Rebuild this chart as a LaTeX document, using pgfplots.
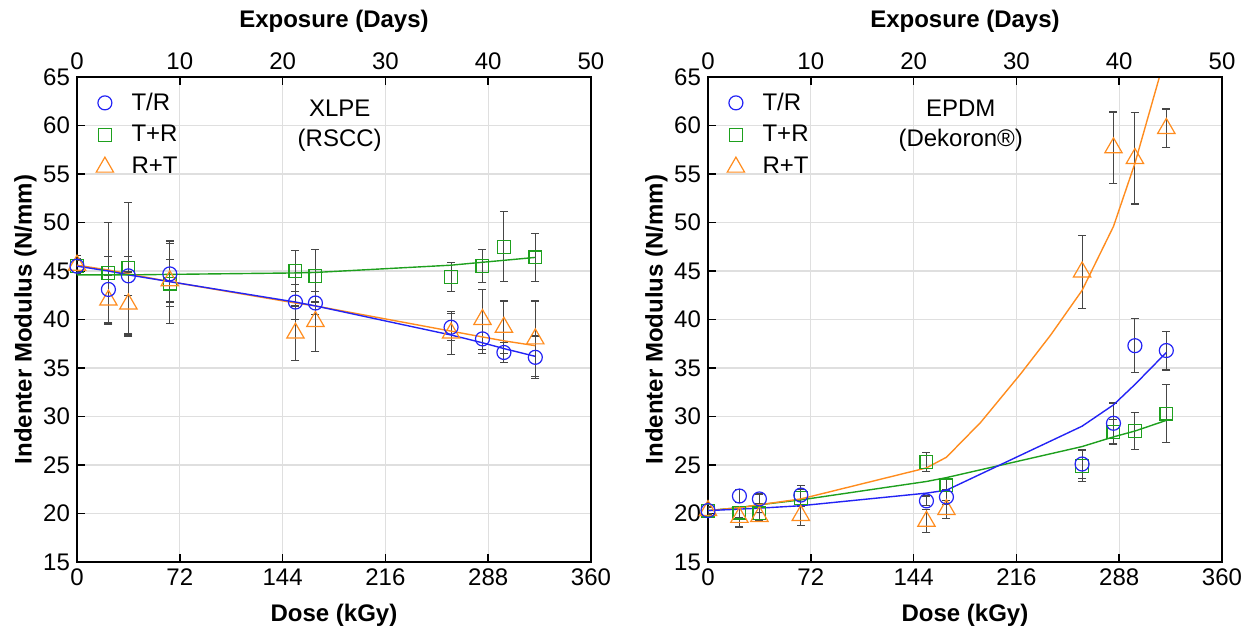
\documentclass[border=0pt]{standalone}
\usepackage{fontspec}
\setmainfont{Liberation Sans}
\usepackage{pgfplots}
\pgfplotsset{compat=1.18}

\definecolor{cTR}{RGB}{35,35,245}
\definecolor{cTpR}{RGB}{30,160,30}
\definecolor{cRT}{RGB}{255,140,30}
\definecolor{cerr}{RGB}{70,70,70}

% XLPE (RSCC): dose, value, error
\pgfplotstableread{
x y e
0 45.5 0.8
22 43.1 3.4
36 44.5 2.0
65 44.7 3.4
153 41.8 1.8
167 41.7 1.2
262 39.2 1.4
284 38.0 1.5
299 36.6 1.0
321 36.1 2.2
}\xlpeTR
\pgfplotstableread{
x y e
0 45.5 0.6
22 44.8 5.2
36 45.3 6.8
65 43.7 4.1
153 45.0 2.1
167 44.5 2.7
262 44.4 1.5
284 45.5 1.7
299 47.5 3.6
321 46.4 2.5
}\xlpeTpR
\pgfplotstableread{
x y e
0 45.6 1.0
22 42.0 2.5
36 41.6 3.3
65 44.0 2.2
153 38.6 2.8
167 39.8 3.1
262 38.6 2.2
284 40.0 3.1
299 39.2 2.7
321 38.0 3.9
}\xlpeRT

% EPDM (Dekoron)
\pgfplotstableread{
x y e
0 20.3 0.3
22 21.8 0.7
36 21.5 0.5
65 21.9 1.0
153 21.3 0.5
167 21.7 0.8
262 25.1 1.5
284 29.3 2.1
299 37.3 2.8
321 36.8 2.0
}\epdmTR
\pgfplotstableread{
x y e
0 20.3 0.3
22 20.1 0.5
36 20.0 0.6
65 21.6 0.9
153 25.3 1.0
167 22.9 0.6
262 24.9 1.6
284 28.4 1.3
299 28.5 1.9
321 30.3 3.0
}\epdmTpR
\pgfplotstableread{
x y e
0 20.3 0.4
22 19.6 1.0
36 19.7 0.4
65 19.8 1.0
153 19.2 1.2
167 20.4 0.9
262 44.9 3.8
284 57.7 3.7
299 56.6 4.7
321 59.7 2.0
}\epdmRT

\pgfplotsset{
  base/.style={
    scale only axis, width=257pt, height=242.5pt, anchor=south west,
    xmin=0, xmax=360, ymin=15, ymax=65,
    /pgf/number format/assume math mode=true,
    tick label style={font=\fontsize{12}{14}\selectfont},
    label style={font=\bfseries\fontsize{12}{14}\selectfont},
    tick align=inside, major tick length=4pt,
    tick style={black, line width=0.8pt},
    axis line style={line width=0.8pt},
  },
  panel/.style={base,
    xtick={0,72,...,360}, ytick={15,20,...,65},
    tick pos=left,
    grid=major, major grid style={gray!25, line width=0.6pt},
    xlabel={Dose (kGy)}, ylabel={Indenter Modulus (N/mm)},
    xlabel shift=2pt, ylabel shift=-3.5pt,
    legend style={draw=none, fill=none, at={(0.025,0.985)}, anchor=north west,
      font=\fontsize{12}{14}\selectfont, row sep=2.2pt,
      /tikz/every odd column/.append style={column sep=7pt}},
    legend cell align=left,
  },
  topax/.style={base,
    xmin=0, xmax=50, xtick={0,10,...,50},
    axis x line*=top, axis y line=none,
    xlabel={Exposure (Days)}, xlabel shift=3.5pt,
  },
  pts/.style={only marks, line width=0.6pt, mark options={fill=none},
    error bars/y dir=both, error bars/y explicit,
    error bars/error bar style={cerr, line width=0.5pt},
    error bars/error mark options={cerr, rotate=90, mark size=2pt, line width=0.6pt}},
  fit/.style={line width=0.7pt, no marks},
}

\begin{document}
\begin{tikzpicture}
\path[use as bounding box] (0,0) rectangle (629pt,315pt);

% ---------- left: XLPE ----------
\begin{axis}[panel, at={(38.5pt,34pt)}]
\addlegendimage{only marks, mark=o, mark size=3.5pt, cTR, line width=0.6pt}
\addlegendentry{T/R}
\addlegendimage{only marks, mark=square, mark size=3.2pt, cTpR, line width=0.6pt}
\addlegendentry{T+R}
\addlegendimage{only marks, mark=triangle, mark size=5pt, cRT, line width=0.6pt}
\addlegendentry{R+T}
\addplot[pts, cTpR, mark=square, mark size=3.2pt, forget plot] table[x=x, y=y, y error=e] {\xlpeTpR};
\addplot[pts, cRT, mark=triangle, mark size=5pt, forget plot] table[x=x, y=y, y error=e] {\xlpeRT};
\addplot[pts, cTR, mark=o, mark size=3.5pt, forget plot] table[x=x, y=y, y error=e] {\xlpeTR};
\addplot[fit, cTpR, forget plot] coordinates {(0,44.6) (22,44.6) (36,44.6) (65,44.65) (153,44.8) (167,44.85) (262,45.6) (284,45.9) (299,46.1) (321,46.4)};
\addplot[fit, cRT, forget plot] coordinates {(0,45.6) (22,45.1) (36,44.7) (65,43.9) (153,41.7) (167,41.4) (262,38.8) (284,38.2) (299,37.8) (321,37.3)};
\addplot[fit, cTR, forget plot] coordinates {(0,45.5) (22,45.0) (36,44.6) (65,43.9) (153,41.8) (167,41.4) (262,38.4) (284,37.6) (299,37.0) (321,36.2)};
\node[align=center, font=\fontsize{12}{15}\selectfont] at (axis cs:184,60) {XLPE\\(RSCC)};
\end{axis}
\begin{axis}[topax, at={(38.5pt,34pt)}]
\end{axis}

% ---------- right: EPDM ----------
\begin{axis}[panel, at={(354pt,34pt)}]
\addlegendimage{only marks, mark=o, mark size=3.5pt, cTR, line width=0.6pt}
\addlegendentry{T/R}
\addlegendimage{only marks, mark=square, mark size=3.2pt, cTpR, line width=0.6pt}
\addlegendentry{T+R}
\addlegendimage{only marks, mark=triangle, mark size=5pt, cRT, line width=0.6pt}
\addlegendentry{R+T}
\addplot[pts, cTpR, mark=square, mark size=3.2pt, forget plot] table[x=x, y=y, y error=e] {\epdmTpR};
\addplot[pts, cRT, mark=triangle, mark size=5pt, forget plot] table[x=x, y=y, y error=e] {\epdmRT};
\addplot[pts, cTR, mark=o, mark size=3.5pt, forget plot] table[x=x, y=y, y error=e] {\epdmTR};
\addplot[fit, cTpR, forget plot] coordinates {(0,20.3) (22,20.6) (36,20.9) (65,21.4) (153,23.3) (167,23.7) (262,26.9) (284,27.9) (299,28.5) (321,29.6)};
\addplot[fit, cRT, forget plot] coordinates {(0,20.3) (22,20.6) (36,20.9) (65,21.5) (153,24.7) (167,25.8) (191,29.4) (219,34.4) (240,38.4) (262,43.0) (284,49.6) (299,56.1) (321,67.5)};
\addplot[fit, cTR, forget plot] coordinates {(0,20.3) (22,20.45) (36,20.55) (65,20.8) (153,22.1) (167,22.4) (262,29.0) (284,31.2) (299,33.3) (321,36.6)};
\node[align=center, font=\fontsize{12}{15}\selectfont] at (axis cs:177,60) {EPDM\\(Dekoron®)};
\end{axis}
\begin{axis}[topax, at={(354pt,34pt)}]
\end{axis}
\end{tikzpicture}
\end{document}
